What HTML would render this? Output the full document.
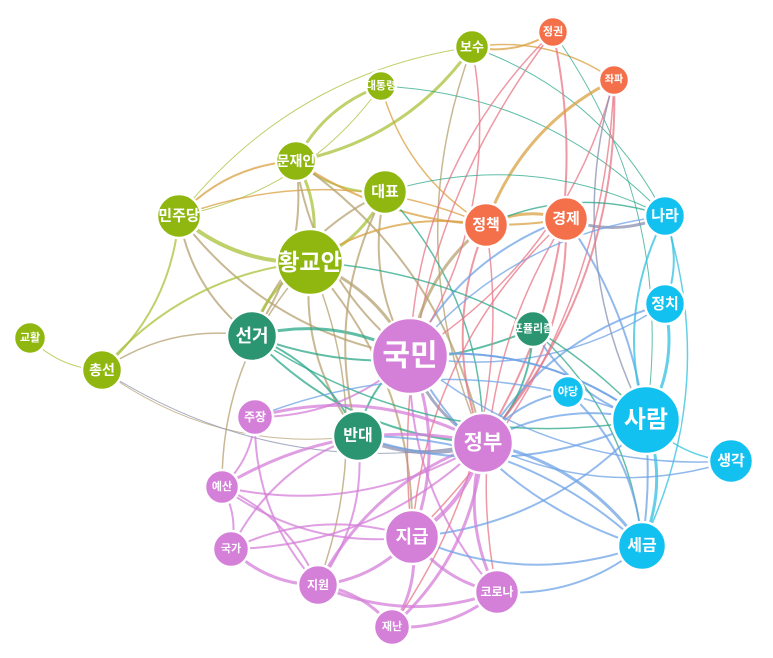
<!DOCTYPE html>
<html><head><meta charset="utf-8"><style>
html,body{margin:0;padding:0;background:#fff;width:773px;height:658px;overflow:hidden}
svg{display:block}
text{font-family:"Liberation Sans","Noto Sans CJK KR","NanumGothic",sans-serif;fill:#fff;font-weight:bold;text-anchor:middle;dominant-baseline:central}
</style></head><body>
<svg id="s" width="773" height="658" viewBox="0 0 773 658">
<g id="edges" fill="none"></g>
<g id="nodes" stroke="#fff" stroke-width="2.5">
<circle cx="472" cy="47" r="17" fill="#8fb70f"/>
<circle cx="553" cy="32" r="15" fill="#f4704b"/>
<circle cx="614" cy="80" r="15" fill="#f4704b"/>
<circle cx="381" cy="86" r="15" fill="#8fb70f"/>
<circle cx="296" cy="161" r="20" fill="#8fb70f"/>
<circle cx="385" cy="192" r="22" fill="#8fb70f"/>
<circle cx="179" cy="216" r="22" fill="#8fb70f"/>
<circle cx="486" cy="225" r="22" fill="#f4704b"/>
<circle cx="566" cy="219" r="22" fill="#f4704b"/>
<circle cx="665" cy="216" r="20" fill="#13c1f0"/>
<circle cx="310" cy="262" r="33" fill="#8fb70f"/>
<circle cx="30" cy="338" r="16" fill="#8fb70f"/>
<circle cx="102" cy="370" r="20" fill="#8fb70f"/>
<circle cx="252" cy="336" r="25" fill="#2b9470"/>
<circle cx="410" cy="356" r="38" fill="#d47fd8"/>
<circle cx="533" cy="329" r="18" fill="#2b9470"/>
<circle cx="665" cy="304" r="20" fill="#13c1f0"/>
<circle cx="568" cy="392" r="16" fill="#13c1f0"/>
<circle cx="646" cy="420" r="34" fill="#13c1f0"/>
<circle cx="731" cy="461" r="22" fill="#13c1f0"/>
<circle cx="255" cy="417" r="18" fill="#d47fd8"/>
<circle cx="358" cy="436" r="25" fill="#2b9470"/>
<circle cx="483" cy="443" r="30" fill="#d47fd8"/>
<circle cx="222" cy="487" r="17" fill="#d47fd8"/>
<circle cx="412" cy="537" r="27" fill="#d47fd8"/>
<circle cx="642" cy="546" r="24" fill="#13c1f0"/>
<circle cx="231" cy="549" r="18" fill="#d47fd8"/>
<circle cx="318" cy="585" r="20" fill="#d47fd8"/>
<circle cx="497" cy="592" r="22" fill="#d47fd8"/>
<circle cx="392" cy="627" r="18" fill="#d47fd8"/>
</g>
<g>
<text x="472" y="47" font-size="13">보수</text>
<text x="553" y="32" font-size="11">정권</text>
<text x="614" y="80" font-size="10">좌파</text>
<text x="381" y="86" font-size="11">대통령</text>
<text x="296" y="161" font-size="14">문재인</text>
<text x="385" y="192" font-size="15">대표</text>
<text x="179" y="216" font-size="15">민주당</text>
<text x="486" y="225" font-size="15">정책</text>
<text x="566" y="219" font-size="15">경제</text>
<text x="665" y="216" font-size="15">나라</text>
<text x="310" y="262" font-size="23">황교안</text>
<text x="30" y="338" font-size="11">교활</text>
<text x="102" y="370" font-size="14">총선</text>
<text x="252" y="336" font-size="18">선거</text>
<text x="410" y="356" font-size="30">국민</text>
<text x="533" y="329" font-size="11">포퓰리즘</text>
<text x="665" y="304" font-size="15">정치</text>
<text x="568" y="392" font-size="11">야당</text>
<text x="646" y="420" font-size="24">사람</text>
<text x="731" y="461" font-size="15">생각</text>
<text x="255" y="417" font-size="12">주장</text>
<text x="358" y="436" font-size="16">반대</text>
<text x="483" y="443" font-size="21">정부</text>
<text x="222" y="487" font-size="11">예산</text>
<text x="412" y="537" font-size="18">지급</text>
<text x="642" y="546" font-size="16">세금</text>
<text x="231" y="549" font-size="11">국가</text>
<text x="318" y="585" font-size="12">지원</text>
<text x="497" y="592" font-size="12">코로나</text>
<text x="392" y="627" font-size="11">재난</text>
</g>
</svg>
<script>
var N={보수:[472,47],정권:[553,32],좌파:[614,80],대통령:[381,86],문재인:[296,161],대표:[385,192],민주당:[179,216],정책:[486,225],경제:[566,219],나라:[665,216],황교안:[310,262],교활:[30,338],총선:[102,370],선거:[252,336],국민:[410,356],포퓰:[533,329],정치:[665,304],야당:[568,392],사람:[646,420],생각:[731,461],주장:[255,417],반대:[358,436],정부:[483,443],예산:[222,487],지급:[412,537],세금:[642,546],국가:[231,549],지원:[318,585],코로나:[497,592],재난:[392,627]};
var G="#a8c23a",T="#b5a070",R="#e87585",B="#6fa3e6",V="#d47fd8",C="#2ba88a",S="#8a90b0",O="#d9a040",Q="#30c0e0";
var E=[
["민주당","보수",G,1],["민주당","대통령",G,1],["민주당","문재인",O,2],["민주당","황교안",G,4],["민주당","총선",G,2],["민주당","국민",T,2],["민주당","정책",O,1.5],["민주당","선거",T,2],
["보수","문재인",G,3],["보수","정권",O,2],["보수","좌파",O,1.5],["보수","정부",T,1.5],["보수","나라",C,1],["대통령","문재인",G,3],["대통령","나라",C,1],["대통령","정책",O,1.5],
["문재인","황교안",G,3],["문재인","대표",G,2],["문재인","정부",T,2],["문재인","경제",O,2],["대표","황교안",G,3],["대표","선거",T,2],["대표","정부",C,1.5],["대표","국민",T,2],
["황교안","국민",T,3],["황교안","반대",T,2],["황교안","지원",T,1.5],["황교안","예산",T,1.5],["황교안","정책",O,2],["황교안","선거",G,3],["황교안","지급",T,2],
["교활","총선",G,1],["총선","선거",T,1.5],["총선","반대",T,1],["총선","황교안",G,2],["총선","정부",S,1],
["선거","국민",C,3],["선거","정부",C,2],["선거","반대",C,2],["선거","포퓰",C,2],
["정권","정부",R,2],["정권","지급",R,1.5],["정권","사람",C,1],["좌파","정책",O,3],["좌파","국민",R,1.5],["좌파","사람",S,1.5],["좌파","지급",R,1.5],
["정책","국민",T,3],["정책","경제",O,3],["정책","정부",R,2],["정책","재난",R,1.5],["경제","나라",S,3],["경제","정부",R,2],["경제","코로나",R,1.5],["경제","세금",B,2],["경제","국민",B,2],
["나라","정치",Q,2],["나라","사람",Q,2],["나라","세금",Q,1.5],["나라","국민",B,1.5],["정치","사람",Q,3],["정치","정부",B,2],["정치","국민",B,1.5],
["국민","정부",S,3],["국민","지급",V,3],["국민","반대",C,2],["국민","사람",B,2],["국민","세금",B,2],["국민","주장",V,2],["국민","코로나",V,2],
["포퓰","정부",C,2],["포퓰","사람",B,2],["포퓰","세금",C,1.5],["야당","정부",B,2],["야당","세금",B,2],["사람","생각",Q,1.5],["사람","세금",Q,3],["사람","정부",B,2],["사람","지급",B,2],["사람","국민",B,2],
["주장","정부",V,3],["주장","지원",V,2],["주장","예산",V,2],["반대","정부",S,4],["반대","지원",V,2],["반대","국가",V,2],
["정부","지급",V,4],["정부","코로나",V,3],["정부","재난",V,3],["정부","예산",V,3],["정부","국가",V,2],["정부","지원",V,3],["정부","세금",B,3],["정부","생각",B,1.5],
["지급","재난",V,3],["지급","코로나",V,3],["지급","지원",V,3],["지급","국가",V,2],["지급","예산",V,2],["지급","세금",B,2],
["예산","국가",V,2],["국가","지원",V,3],["지원","재난",V,3],["지원","코로나",V,3],["코로나","재난",V,3],["코로나","세금",B,2],["예산","지원",V,2],
["문재인","국민",T,2],["문재인","선거",T,2],["대표","반대",T,2],["보수","국민",R,1.5],["정권","국민",R,1.5],["좌파","정부",R,2],["경제","지급",R,1.5],["정책","나라",C,1.5],
["선거","사람",C,1.5],["황교안","사람",C,1.5],["반대","사람",B,2],["주장","사람",B,1.5],["예산","정부",V,2],["반대","세금",B,2],["국민","생각",B,1.5],["대표","나라",C,1]
];
var g=document.getElementById("edges"),h="";
E.forEach(function(e,i){var a=N[e[0]],b=N[e[1]];var mx=(a[0]+b[0])/2,my=(a[1]+b[1])/2,dx=b[0]-a[0],dy=b[1]-a[1];var k=(i%2?0.2:-0.2);var cx=mx-dy*k,cy=my+dx*k;
h+='<path d="M'+a[0]+' '+a[1]+' Q'+cx+' '+cy+' '+b[0]+' '+b[1]+'" stroke="'+e[2]+'" stroke-width="'+e[3]+'" stroke-opacity="0.75"/>';});
g.innerHTML=h;
</script>
</body></html>
